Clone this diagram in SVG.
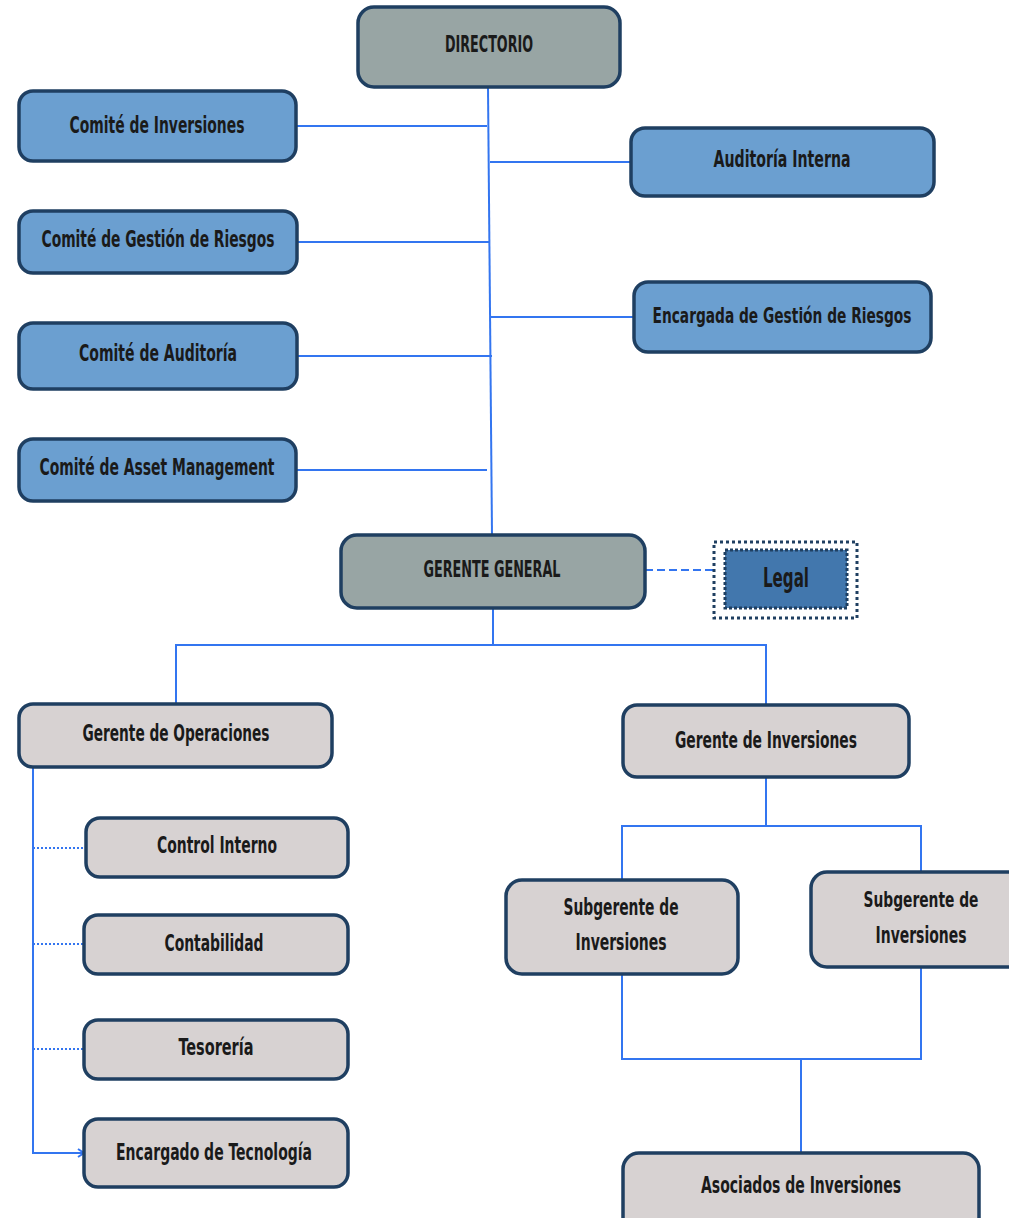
<svg xmlns="http://www.w3.org/2000/svg" width="1009" height="1218" viewBox="0 0 1009 1218">
<style>
.box{stroke:#1f3f61;stroke-width:3.5}
.blue{fill:#6b9fd0}
.gray{fill:#98a5a4}
.light{fill:#d7d2d2}
.t{font-family:"DejaVu Sans Condensed","DejaVu Sans",sans-serif;font-weight:bold;font-size:23px;fill:#1a1a1a;text-anchor:middle}
.c{fill:none;stroke:#3375f0;stroke-width:2}
</style>
<defs>
<marker id="arr" markerWidth="10" markerHeight="10" refX="8" refY="5" orient="auto" markerUnits="userSpaceOnUse">
<path d="M2,1 L8,5 L2,9" fill="none" stroke="#3375f0" stroke-width="2"/>
</marker>
</defs>
<rect width="1009" height="1218" fill="#ffffff"/>
<g id="connectors">
<line class="c" x1="488" y1="87" x2="492" y2="535"/>
<line class="c" x1="296" y1="126" x2="487" y2="126"/>
<line class="c" x1="490" y1="162" x2="631" y2="162"/>
<line class="c" x1="297" y1="242" x2="489" y2="242"/>
<line class="c" x1="490" y1="317" x2="634" y2="317"/>
<line class="c" x1="297" y1="356" x2="492" y2="356"/>
<line class="c" x1="296" y1="470" x2="487" y2="470"/>
<line class="c" x1="645" y1="570" x2="713" y2="570" stroke-dasharray="8,4"/>
<polyline class="c" points="493,608 493,645"/>
<polyline class="c" points="176,704 176,645 766,645 766,705"/>
<polyline class="c" points="33,767 33,1153 84,1153" marker-end="url(#arr)"/>
<line class="c" x1="33" y1="848" x2="86" y2="848" stroke-dasharray="2,2"/>
<line class="c" x1="33" y1="944" x2="84" y2="944" stroke-dasharray="2,2"/>
<line class="c" x1="33" y1="1049" x2="84" y2="1049" stroke-dasharray="2,2"/>
<polyline class="c" points="766,777 766,826"/>
<polyline class="c" points="622,880 622,826 921,826 921,872"/>
<polyline class="c" points="622,974 622,1059 921,1059 921,967"/>
<polyline class="c" points="801,1059 801,1153"/>
</g>
<g id="directorio"><rect class="box gray" x="358" y="7" width="262" height="80" rx="16"/><text class="t" x="489" y="52" textLength="88" lengthAdjust="spacingAndGlyphs">DIRECTORIO</text></g>
<g id="comite-inversiones"><rect class="box blue" x="19" y="91" width="277" height="70" rx="14"/><text class="t" x="157" y="133" textLength="175" lengthAdjust="spacingAndGlyphs">Comité de Inversiones</text></g>
<g id="comite-riesgos"><rect class="box blue" x="19" y="211" width="278" height="62" rx="14"/><text class="t" x="158" y="247" textLength="233" lengthAdjust="spacingAndGlyphs">Comité de Gestión de Riesgos</text></g>
<g id="comite-auditoria"><rect class="box blue" x="19" y="323" width="278" height="66" rx="14"/><text class="t" x="158" y="361" textLength="158" lengthAdjust="spacingAndGlyphs">Comité de Auditoría</text></g>
<g id="comite-asset"><rect class="box blue" x="19" y="439" width="277" height="62" rx="14"/><text class="t" x="157" y="475" textLength="235" lengthAdjust="spacingAndGlyphs">Comité de Asset Management</text></g>
<g id="auditoria-interna"><rect class="box blue" x="631" y="128" width="303" height="68" rx="14"/><text class="t" x="782" y="167" textLength="137" lengthAdjust="spacingAndGlyphs">Auditoría Interna</text></g>
<g id="encargada-riesgos"><rect class="box blue" x="634" y="282" width="297" height="70" rx="14"/><text class="t" x="782" y="323" style="font-size:21px" textLength="259" lengthAdjust="spacingAndGlyphs">Encargada de Gestión de Riesgos</text></g>
<g id="gerente-general"><rect class="box gray" x="341" y="535" width="304" height="73" rx="16"/><text class="t" x="492" y="577" textLength="137" lengthAdjust="spacingAndGlyphs">GERENTE GENERAL</text></g>
<g id="legal">
<rect x="714" y="542" width="143" height="76" fill="#ffffff" stroke="#1f3f61" stroke-width="3" stroke-dasharray="3,3"/>
<rect x="725" y="550" width="122" height="58" fill="#4277ad" stroke="#1f3f61" stroke-width="3" stroke-dasharray="3,2"/>
<text class="t" x="786" y="587" style="font-size:27px" textLength="46" lengthAdjust="spacingAndGlyphs">Legal</text>
</g>
<g id="gerente-operaciones"><rect class="box light" x="19" y="704" width="313" height="63" rx="14"/><text class="t" x="176" y="741" textLength="187" lengthAdjust="spacingAndGlyphs">Gerente de Operaciones</text></g>
<g id="gerente-inversiones"><rect class="box light" x="623" y="705" width="286" height="72" rx="14"/><text class="t" x="766" y="748" textLength="182" lengthAdjust="spacingAndGlyphs">Gerente de Inversiones</text></g>
<g id="control-interno"><rect class="box light" x="86" y="818" width="262" height="59" rx="14"/><text class="t" x="217" y="853" textLength="120" lengthAdjust="spacingAndGlyphs">Control Interno</text></g>
<g id="contabilidad"><rect class="box light" x="84" y="915" width="264" height="59" rx="14"/><text class="t" x="214" y="951" textLength="99" lengthAdjust="spacingAndGlyphs">Contabilidad</text></g>
<g id="tesoreria"><rect class="box light" x="84" y="1020" width="264" height="59" rx="14"/><text class="t" x="216" y="1055" textLength="75" lengthAdjust="spacingAndGlyphs">Tesorería</text></g>
<g id="encargado-tecnologia"><rect class="box light" x="84" y="1119" width="264" height="68" rx="14"/><text class="t" x="214" y="1160" textLength="196" lengthAdjust="spacingAndGlyphs">Encargado de Tecnología</text></g>
<g id="subgerente-1"><rect class="box light" x="506" y="880" width="232" height="94" rx="16"/><text class="t" x="621" y="915" textLength="115" lengthAdjust="spacingAndGlyphs">Subgerente de</text><text class="t" x="621" y="950" textLength="91" lengthAdjust="spacingAndGlyphs">Inversiones</text></g>
<g id="subgerente-2"><rect class="box light" x="811" y="872" width="220" height="95" rx="16"/><text class="t" x="921" y="907" style="font-size:21px" textLength="115" lengthAdjust="spacingAndGlyphs">Subgerente de</text><text class="t" x="921" y="943" textLength="91" lengthAdjust="spacingAndGlyphs">Inversiones</text></g>
<g id="asociados-inversiones"><rect class="box light" x="623" y="1153" width="356" height="90" rx="16"/><text class="t" x="801" y="1193" textLength="200" lengthAdjust="spacingAndGlyphs">Asociados de Inversiones</text></g>
</svg>
